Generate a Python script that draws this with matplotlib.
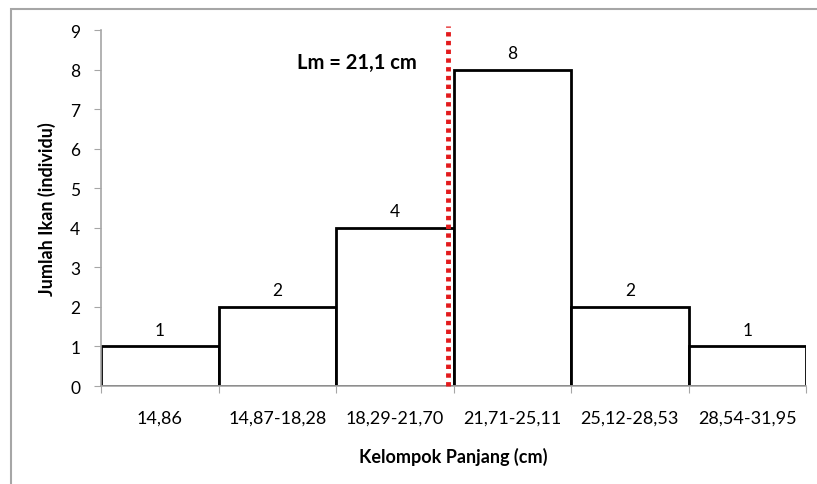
import matplotlib
matplotlib.use("Agg")
import matplotlib.pyplot as plt
import numpy as np

categories = ["14,86", "14,87-18,28", "18,29-21,70", "21,71-25,11", "25,12-28,53", "28,54-31,95"]
counts = [1, 2, 4, 8, 2, 1]
lm_value = 21.1
lm_label = "Lm = 21,1 cm"
# Lm position expressed on category axis (just left of the 18,29-21,70 / 21,71-25,11 boundary)
lm_pos = 2.45

plt.rcParams['font.family'] = ['Lato', 'DejaVu Sans']

fig = plt.figure(figsize=(8.17, 4.85), dpi=100)
# outer gray frame
fig.patches.append(plt.Rectangle((11/817, -0.1), 1.2, 1 - 10/485 + 0.1, transform=fig.transFigure,
                                 fill=False, edgecolor='#a6a6a6', linewidth=1.5))

ax = fig.add_axes([101/817, 1 - 387/485, 705/817, 356/485])
x = np.arange(len(categories))
ax.bar(x, counts, width=1.0, color='white', edgecolor='black', linewidth=2.0, zorder=2)
for xi, c in zip(x, counts):
    ax.text(xi, c + 0.22, str(c), ha='center', va='bottom', fontsize=12.5, color='black')

ax.set_xlim(-0.5, len(categories) - 0.5)
ax.set_ylim(0, 9)
ax.set_yticks(range(0, 10))
ax.set_xticks(np.arange(-0.5, len(categories), 1.0))
ax.set_xticklabels([])
ax.set_xticks(x, minor=True)
ax.set_xticklabels(categories, minor=True)
ax.tick_params(axis='x', which='minor', length=0, pad=17, labelsize=13)
ax.tick_params(axis='x', which='major', length=5, direction='out', color='#a6a6a6')
ax.tick_params(axis='y', length=5, direction='out', color='#a6a6a6', labelsize=12.5, pad=10)

for s in ['top', 'right']:
    ax.spines[s].set_visible(False)
for s in ['left', 'bottom']:
    ax.spines[s].set_color('#a6a6a6')
    ax.spines[s].set_linewidth(1.2)

ax.plot([lm_pos, lm_pos], [0, 9.1], color='#e31a1c', linewidth=3.5,
        linestyle=(0, (0.9, 0.9)), clip_on=False, zorder=3)
ax.text(1.68, 8.2, lm_label, ha='center', va='center', fontsize=14.5, fontweight='bold')

ax.set_ylabel("Jumlah Ikan (individu)", fontsize=13, fontweight='bold', labelpad=10)
ax.set_xlabel("Kelompok Panjang (cm)", fontsize=13, fontweight='bold', labelpad=15)

fig.savefig("out.png", dpi=100)
